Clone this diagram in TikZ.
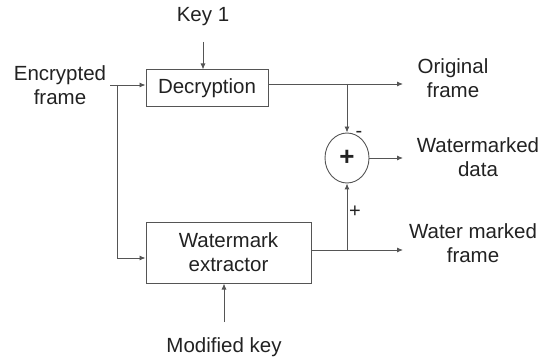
\documentclass[tikz,border=0pt]{standalone}
\usepackage{fontspec}
\setmainfont{Liberation Sans}
\usetikzlibrary{arrows.meta,shapes.geometric}
\definecolor{ln}{HTML}{555555}
\definecolor{tx}{HTML}{222222}
\begin{document}
\begin{tikzpicture}[x=1pt,y=-1pt,
  every node/.style={text=tx,font=\fontsize{20.5}{24}\selectfont},
  box/.style={draw=ln,line width=1pt,rectangle,inner sep=0pt},
  lbl/.style={align=center,inner sep=1pt},
  arr/.style={draw=ln,line width=0.9pt,-{Latex[length=6pt,width=5pt]}},
  ln/.style={draw=ln,line width=0.9pt}]
\useasboundingbox (0,0) rectangle (543,358);
\node[box,minimum width=122pt,minimum height=37pt] (dec) at (207,88.5) {Decryption};
\node[box,minimum width=165pt,minimum height=61pt,align=center] (wme) at (228.5,252.5) {Watermark\\extractor};
\node[draw=ln,line width=0.9pt,ellipse,minimum width=44pt,minimum height=50pt,inner sep=0pt,font=\fontsize{26}{26}\selectfont\bfseries] (sum) at (347,158) {+};
\node[lbl] (key1) at (203,17) {Key 1};
\node[lbl] (enc) at (60,85) {Encrypted\\frame};
\node[lbl] (orig) at (453,78) {Original\\frame};
\node[lbl] (wmd) at (478,157) {Watermarked\\data};
\node[lbl] (wmf) at (473,243) {Water marked\\frame};
\node[lbl] (mod) at (224,347) {Modified key};
\node[lbl,font=\fontsize{20}{20}\selectfont] (minus) at (359,134) {-};
\node[lbl,font=\fontsize{20}{20}\selectfont] (plus) at (355,212) {+};
\coordinate (k1) at (203,42);
\coordinate (e0) at (110,85);
\coordinate (j1) at (117,85);
\coordinate (j1b) at (117,258);
\coordinate (j2) at (347,84);
\coordinate (o1) at (403,84);
\coordinate (o2) at (403,158);
\coordinate (j3) at (347,250);
\coordinate (o3) at (403,250);
\coordinate (m0) at (224,322);
\draw[arr] (k1) -- (k1 |- dec.north);
\draw[arr] (e0) -- (e0 -| dec.west);
\draw[arr] (j1) -- (j1b) -- (j1b -| wme.west);
\draw[arr] (dec.east |- j2) -- (o1);
\draw[arr] (j2) -- (sum.north);
\draw[arr] (sum.east) -- (o2);
\draw[arr] (wme.east |- j3) -- (o3);
\draw[arr] (j3) -- (sum.south);
\draw[arr] (m0) -- (m0 |- wme.south);
\end{tikzpicture}
\end{document}
